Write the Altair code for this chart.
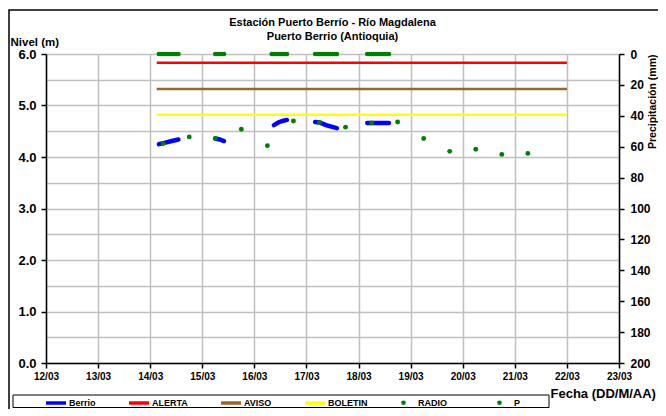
import altair as alt
import pandas as pd

FONT = "Liberation Sans"

# ---------------- data ----------------
titulo = ["Estación Puerto Berrío - Río Magdalena", "Puerto Berrio (Antioquia)"]

berrio_fecha = [
    "2014-03-14T04:00", "2014-03-14T07:00", "2014-03-14T10:00", "2014-03-14T13:00",
    "2014-03-15T06:00", "2014-03-15T08:00", "2014-03-15T10:00",
    "2014-03-16T09:00", "2014-03-16T11:00", "2014-03-16T13:00", "2014-03-16T15:00",
    "2014-03-17T04:00", "2014-03-17T06:00", "2014-03-17T09:00", "2014-03-17T14:00",
    "2014-03-18T04:00", "2014-03-18T14:00",
]
berrio_nivel = [
    4.25, 4.28, 4.31, 4.34,
    4.36, 4.34, 4.31,
    4.62, 4.67, 4.70, 4.72,
    4.68, 4.67, 4.62, 4.56,
    4.66, 4.66,
]
berrio_tramo = [1, 1, 1, 1, 2, 2, 2, 3, 3, 3, 3, 4, 4, 4, 4, 5, 5]

umbral_serie = ["ALERTA", "AVISO", "BOLETIN"]
umbral_nivel = [5.83, 5.32, 4.82]
umbral_inicio = ["2014-03-14T03:00", "2014-03-14T03:00", "2014-03-14T03:00"]
umbral_fin = ["2014-03-22T00:00", "2014-03-22T00:00", "2014-03-22T00:00"]

radio_fecha = [
    "2014-03-14T06:00", "2014-03-14T18:00", "2014-03-15T06:00", "2014-03-15T18:00",
    "2014-03-16T06:00", "2014-03-16T18:00", "2014-03-17T06:00", "2014-03-17T18:00",
    "2014-03-18T06:00", "2014-03-18T18:00", "2014-03-19T06:00", "2014-03-19T18:00",
    "2014-03-20T06:00", "2014-03-20T18:00", "2014-03-21T06:00",
]
radio_nivel = [4.26, 4.39, 4.36, 4.54, 4.22, 4.70, 4.67, 4.58,
               4.66, 4.68, 4.36, 4.11, 4.15, 4.05, 4.07]

p_fecha = [
    "2014-03-14T04:00", "2014-03-14T05:00", "2014-03-14T06:00", "2014-03-14T07:00",
    "2014-03-14T08:00", "2014-03-14T09:00", "2014-03-14T10:00", "2014-03-14T11:00",
    "2014-03-14T12:00", "2014-03-14T13:00",
    "2014-03-15T06:00", "2014-03-15T07:00", "2014-03-15T08:00", "2014-03-15T09:00",
    "2014-03-15T10:00",
    "2014-03-16T08:00", "2014-03-16T09:00", "2014-03-16T10:00", "2014-03-16T11:00",
    "2014-03-16T12:00", "2014-03-16T13:00", "2014-03-16T14:00", "2014-03-16T15:00",
    "2014-03-17T04:00", "2014-03-17T05:00", "2014-03-17T06:00", "2014-03-17T07:00",
    "2014-03-17T08:00", "2014-03-17T09:00", "2014-03-17T10:00", "2014-03-17T11:00",
    "2014-03-17T12:00", "2014-03-17T13:00", "2014-03-17T14:00",
    "2014-03-18T04:00", "2014-03-18T05:00", "2014-03-18T06:00", "2014-03-18T07:00",
    "2014-03-18T08:00", "2014-03-18T09:00", "2014-03-18T10:00", "2014-03-18T11:00",
    "2014-03-18T12:00", "2014-03-18T13:00", "2014-03-18T14:00",
]
p_valor = [
    0, 0, 0, 0, 0, 0, 0, 0, 0, 0,
    0, 0, 0, 0, 0,
    0, 0, 0, 0, 0, 0, 0, 0,
    0, 0, 0, 0, 0, 0, 0, 0, 0, 0, 0,
    0, 0, 0, 0, 0, 0, 0, 0, 0, 0, 0,
]

x_ticks_dias = [12, 13, 14, 15, 16, 17, 18, 19, 20, 21, 22, 23]
y_ticks_nivel = [0, 0.5, 1, 1.5, 2, 2.5, 3, 3.5, 4, 4.5, 5, 5.5, 6]
y_ticks_p = [0, 20, 40, 60, 80, 100, 120, 140, 160, 180, 200]

lineas_serie = ["Berrio", "ALERTA", "AVISO", "BOLETIN"]
lineas_color = ["#0000FF", "#FF0000", "#996633", "#FFFF00"]
puntos_serie = ["RADIO", "P"]
puntos_color = ["#008000", "#008000"]

# ---------------- tables ----------------
df_berrio = pd.DataFrame({"fecha": berrio_fecha, "nivel": berrio_nivel,
                          "tramo": berrio_tramo, "serie": "Berrio"})
df_umbral = pd.DataFrame({"fecha": umbral_inicio, "fecha_fin": umbral_fin,
                          "nivel": umbral_nivel, "serie": umbral_serie})
df_radio = pd.DataFrame({"fecha": radio_fecha, "nivel": radio_nivel, "serie": "RADIO"})
df_p = pd.DataFrame({"fecha": p_fecha, "valor": p_valor, "serie": "P"})
one = pd.DataFrame({"k": [0]})

W, H = 573, 309
GRID = "#C0C0C0"

x_enc = alt.X(
    "fecha:T",
    scale=alt.Scale(domain=[alt.DateTime(year=2014, month=3, date=12),
                            alt.DateTime(year=2014, month=3, date=23)], nice=False),
    axis=alt.Axis(
        values=[alt.DateTime(year=2014, month=3, date=d) for d in x_ticks_dias],
        format="%d/%m", labelFlush=False, labelOverlap=False,
        grid=True, gridColor=GRID, gridWidth=1.5,
        tickSize=5, labelPadding=3, labelFontSize=10,
        title="Fecha (DD/M/AA)", titleX=504, titleY=34, titleAlign="left",
        titleAnchor="start", titleBaseline="alphabetic", titleFontSize=13,
    ),
)

y_left = alt.Y(
    "nivel:Q",
    scale=alt.Scale(domain=[0, 6], nice=False, zero=False),
    axis=alt.Axis(
        values=y_ticks_nivel,
        labelExpr="datum.value % 1 === 0 ? format(datum.value, '.1f') : ''",
        tickOpacity={"condition": {"test": "datum.value % 1 !== 0", "value": 0}, "value": 1},
        grid=True, gridColor=GRID, gridWidth=1.5,
        labelFontSize=13, tickSize=5, labelPadding=5, labelFlush=False, labelOverlap=False,
        title="Nivel (m)", titleAngle=0, titleX=-36, titleY=-9, titleAlign="left",
        titleBaseline="alphabetic", titleFontSize=11.5,
    ),
)

y_right = alt.Y(
    "valor:Q",
    scale=alt.Scale(domain=[0, 200], reverse=True, nice=False),
    axis=alt.Axis(
        orient="right", values=y_ticks_p, grid=False,
        labelFontSize=12, tickSize=5, labelPadding=6, labelFlush=False, labelOverlap=False,
        title="Precipitación (mm)", titleAngle=270, titleX=36, titleY=0,
        titleAlign="right", titleBaseline="alphabetic", titleFontSize=10.5,
    ),
)

color_enc = alt.Color(
    "serie:N",
    scale=alt.Scale(domain=lineas_serie, range=lineas_color),
    legend=alt.Legend(
        orient="none", legendX=-2, legendY=337, direction="horizontal", title=None,
        symbolType="stroke", symbolSize=400, symbolStrokeWidth=3.5,
        labelFont=FONT, labelFontSize=9, labelFontWeight="bold", labelColor="black",
        labelOffset=1, columnPadding=26, padding=0,
    ),
)

fill_enc = alt.Fill(
    "serie:N",
    scale=alt.Scale(domain=puntos_serie, range=puntos_color),
    legend=alt.Legend(
        orient="none", legendX=353, legendY=344, direction="horizontal", title=None,
        symbolType="circle", symbolSize=22, symbolStrokeWidth=0,
        labelFont=FONT, labelFontSize=9, labelFontWeight="bold", labelColor="black",
        labelOffset=10, columnPadding=48, padding=0,
    ),
)

# decorations (frame, legend box, title)
marco = alt.Chart(one).mark_rect(filled=False, stroke="black", strokeWidth=1.5).encode(
    x=alt.value(-37), x2=alt.value(W + 80), y=alt.value(-44), y2=alt.value(H + 80))
caja = alt.Chart(one).mark_rect(filled=False, stroke="black", strokeWidth=1).encode(
    x=alt.value(-33), x2=alt.value(503), y=alt.value(341), y2=alt.value(353.5))
tit1 = alt.Chart(one).mark_text(font=FONT, fontSize=11, fontWeight="bold", color="black",
                                align="center", baseline="middle").encode(
    x=alt.value(W / 2), y=alt.value(-31), text=alt.value(titulo[0]))
tit2 = alt.Chart(one).mark_text(font=FONT, fontSize=11, fontWeight="bold", color="black",
                                align="center", baseline="middle").encode(
    x=alt.value(W / 2), y=alt.value(-17), text=alt.value(titulo[1]))

umbrales = alt.Chart(df_umbral).mark_rule(strokeWidth=2.5).encode(
    x=x_enc, x2="fecha_fin:T", y=y_left, color=color_enc)
berrio = alt.Chart(df_berrio).mark_line(strokeWidth=4.5, strokeCap="round").encode(
    x=x_enc, y=y_left, color=color_enc, detail="tramo:N")
radio = alt.Chart(df_radio).mark_circle(size=24, opacity=1).encode(
    x=x_enc, y=y_left, fill=fill_enc)
lluvia = alt.Chart(df_p).mark_circle(size=22, opacity=1).encode(
    x=x_enc, y=y_right, fill=fill_enc)

izq = alt.layer(marco, caja, tit1, tit2, umbrales, berrio, radio)

chart = (
    alt.layer(izq, lluvia)
    .resolve_scale(y="independent")
    .properties(
        width=W, height=H,
        autosize=alt.AutoSizeParams(type="none"),
        padding={"left": 38, "top": 46, "right": 39, "bottom": 46},
    )
    .configure_view(stroke=None)
    .configure_axis(
        domainColor="black", domainWidth=1.5, tickColor="black", tickWidth=1.5,
        labelFont=FONT, labelFontWeight="bold", labelColor="black",
        titleFont=FONT, titleFontWeight="bold", titleColor="black",
    )
    .configure_legend(labelFont=FONT, labelFontWeight="bold", labelColor="black")
)

chart.save("out.html", embed_options={"renderer": "svg", "actions": False})
